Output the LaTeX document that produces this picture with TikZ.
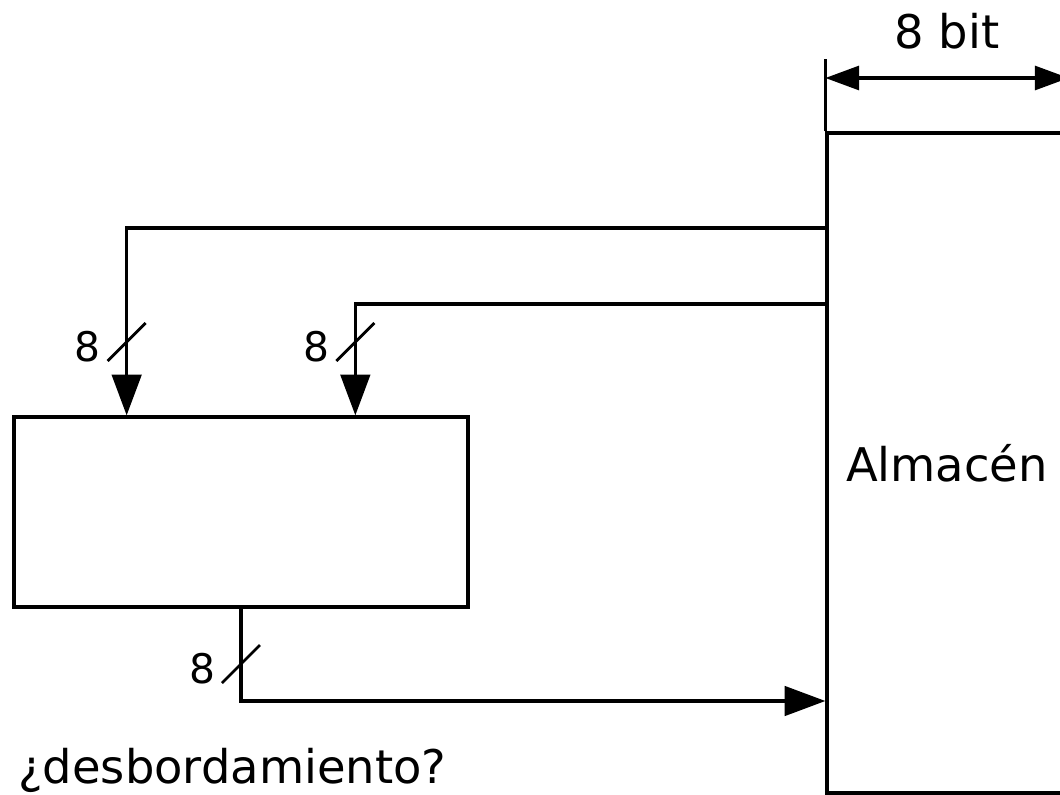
\documentclass[tikz,border=0pt]{standalone}
\usepackage{fontspec}
\setmainfont{DejaVu Sans}
\usetikzlibrary{arrows.meta,calc}

\tikzset{
  wire/.style={line width=2.3pt},
  bus/.style={wire,-{Triangle[length=29pt,width=21pt]}},
  dimarrow/.style={wire,{Triangle[length=24pt,width=17pt]}-{Triangle[length=24pt,width=17pt]}},
  block/.style={draw,line width=2.3pt,inner sep=0pt},
  buslabel/.style={font=\fontsize{29}{34}\selectfont,inner sep=0pt},
  bigtext/.style={font=\fontsize{33}{40}\selectfont},
}

\begin{document}
\begin{tikzpicture}[x=0.025cm,y=-0.025cm]
\useasboundingbox (0,0) rectangle (1060,795);
\clip (0,0) rectangle (1060,795);
% store and the processing block
\node[block,bigtext,minimum width=6cm,minimum height=16.5cm] (store) at (947,463) {Almacén};
\node[block,minimum width=11.35cm,minimum height=4.75cm] (proc) at (241,512) {};
% width of the store
\draw[wire] (store.north west) -- (store.west |- 0,59);
\coordinate (dimL) at (store.west |- 0,78);
\coordinate (dimR) at (store.east |- 0,78);
\draw[dimarrow] (dimL) -- node[midway,yshift=33pt,bigtext] (width) {8 bit} (dimR);
% buses
\coordinate (tapA) at (store.west |- 0,228);
\coordinate (tapB) at (store.west |- 0,304);
\coordinate (tapC) at (store.west |- 0,701);
\coordinate (inA) at ($(proc.north west)!0.25!(proc.north east)$);
\coordinate (inB) at ($(proc.north west)!0.75!(proc.north east)$);
\draw[bus] (tapA) -| (inA);
\draw[bus] (tapB) -| (inB);
\draw[bus] (proc.south) |- (tapC);
\coordinate (sA) at (inA |- 0,342);
\coordinate (sB) at (inB |- 0,342);
\coordinate (sC) at (proc.south |- 0,664);
\foreach \s in {sA,sB,sC} {
  \draw[line width=2pt] ([shift={(-19,19)}]\s) -- ([shift={(19,-19)}]\s);
  \node[buslabel] (l-\s) at ([shift={(-39,5)}]\s) {8};
}
\node[bigtext,anchor=base west,inner sep=0pt] (overflow) at (18,783) {¿desbordamiento?};
\end{tikzpicture}
\end{document}
